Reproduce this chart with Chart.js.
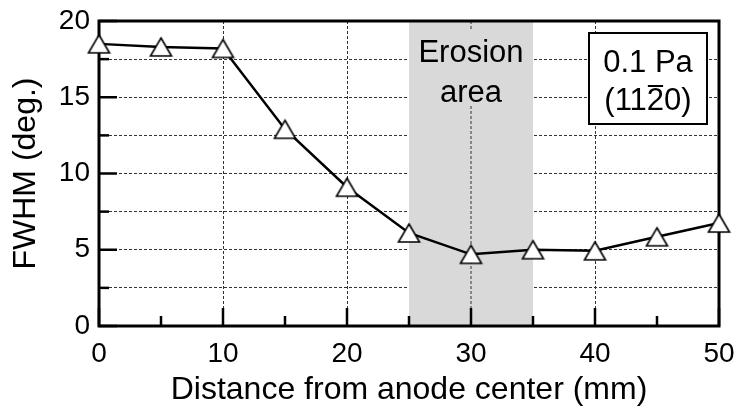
<!DOCTYPE html>
<html>
<head>
<meta charset="utf-8">
<script src="https://cdn.jsdelivr.net/npm/chart.js@4.4.0/dist/chart.umd.min.js"></script>
<style>
    html, body { margin: 0; padding: 0; background: #fff; }
    #wrap { width: 737px; height: 407px; }
</style>
</head>
<body>
<div id="wrap"><canvas id="fwhmChart"></canvas></div>
<script>
// Mätdata: FWHM mot avstånd från anodens centrum
const distance = [0, 5, 10, 15, 20, 25, 30, 35, 40, 45, 50]
const fwhm = [18.5, 18.3, 18.2, 12.9, 9.1, 6.1, 4.7, 5.0, 4.93, 5.85, 6.75]

const erosionRange = [25, 35]
const erosionLabel = ['Erosion', 'area']
const noteLines = ['0.1 Pa', '(1120)']
const noteBarIndex = 3 // streck över "2"

const FONT = '"Liberation Sans", Arial, sans-serif'

// Triangelmarkör centrerad på sin bounding box
function makeTriangle() {
    const c = document.createElement('canvas')
    c.width = 25
    c.height = 22
    const g = c.getContext('2d')
    g.beginPath()
    g.moveTo(12.5, 2)
    g.lineTo(23, 20)
    g.lineTo(2, 20)
    g.closePath()
    g.fillStyle = '#fff'
    g.fill()
    g.lineWidth = 1.6
    g.strokeStyle = '#000'
    g.stroke()
    return c
}

const decorPlugin = {
    id: 'decor',
    beforeDatasetsDraw(chart) {
        const { ctx, chartArea: a, scales: { x, y } } = chart
        const x0 = x.getPixelForValue(erosionRange[0])
        const x1 = x.getPixelForValue(erosionRange[1])
        ctx.save()

        // grått erosionsområde
        ctx.fillStyle = '#d9d9d9'
        ctx.fillRect(x0, a.top, x1 - x0, a.bottom - a.top)

        // vertikal gridlinje inne i området
        ctx.setLineDash([3, 2])
        ctx.strokeStyle = '#333'
        ctx.lineWidth = 1
        x.ticks.forEach((t) => {
            if (t.value % 10 === 0 && t.value > erosionRange[0] && t.value < erosionRange[1]) {
                const px = x.getPixelForValue(t.value)
                ctx.beginPath()
                ctx.moveTo(px, a.top)
                ctx.lineTo(px, a.bottom)
                ctx.stroke()
            }
        })
        ctx.setLineDash([])

        // text med grå bakgrund
        ctx.fillStyle = '#d9d9d9'
        ctx.fillRect(x0, a.top + 9, x1 - x0, 75)
        ctx.fillStyle = '#000'
        ctx.font = '31px ' + FONT
        ctx.textAlign = 'center'
        ctx.textBaseline = 'alphabetic'
        const cx = (x0 + x1) / 2
        ctx.fillText(erosionLabel[0], cx, a.top + 41)
        ctx.fillText(erosionLabel[1], cx, a.top + 81)

        // ram
        ctx.strokeStyle = '#000'
        ctx.lineWidth = 3
        ctx.strokeRect(a.left, a.top, a.right - a.left, a.bottom - a.top)

        // tickmarks inåt
        ctx.lineWidth = 2.5
        x.ticks.forEach((t) => {
            const px = x.getPixelForValue(t.value)
            const len = t.value % 10 === 0 ? 18 : 10
            ctx.beginPath()
            ctx.moveTo(px, a.bottom)
            ctx.lineTo(px, a.bottom - len)
            ctx.stroke()
        })
        y.ticks.forEach((t) => {
            const py = y.getPixelForValue(t.value)
            const len = t.value % 5 === 0 ? 18 : 10
            ctx.beginPath()
            ctx.moveTo(a.left, py)
            ctx.lineTo(a.left + len, py)
            ctx.stroke()
        })
        ctx.restore()
    },
    afterDatasetsDraw(chart) {
        const { ctx, chartArea: a } = chart
        const w = 118
        const h = 91
        const bx = a.right - 12 - w
        const by = a.top + 12
        ctx.save()
        ctx.fillStyle = '#fff'
        ctx.fillRect(bx, by, w, h)
        ctx.strokeStyle = '#000'
        ctx.lineWidth = 2
        ctx.strokeRect(bx, by, w, h)

        ctx.fillStyle = '#000'
        ctx.font = '31px ' + FONT
        ctx.textBaseline = 'alphabetic'
        ctx.textAlign = 'center'
        const cx = bx + w / 2
        ctx.fillText(noteLines[0], cx, by + 39)

        // andra raden med streck över en siffra
        const line = noteLines[1]
        const tw = ctx.measureText(line).width
        const sx = cx - tw / 2
        ctx.textAlign = 'left'
        ctx.fillText(line, sx, by + 77)
        const pre = ctx.measureText(line.slice(0, noteBarIndex)).width
        const cw = ctx.measureText(line[noteBarIndex]).width
        ctx.lineWidth = 2
        ctx.beginPath()
        ctx.moveTo(sx + pre + 1, by + 77 - 24)
        ctx.lineTo(sx + pre + cw - 1, by + 77 - 24)
        ctx.stroke()
        ctx.restore()
    }
}

const points = distance.map((d, i) => ({ x: d, y: fwhm[i] }))

new Chart(document.getElementById('fwhmChart'), {
    type: 'line',
    data: {
        datasets: [
            {
                data: points,
                borderColor: '#000',
                borderWidth: 2.5,
                pointStyle: makeTriangle(),
                clip: false,
                tension: 0
            }
        ]
    },
    options: {
        responsive: true,
        maintainAspectRatio: false,
        animation: false,
        layout: {
            padding: { top: 21, right: 18, left: 0, bottom: 0 }
        },
        plugins: {
            legend: { display: false },
            tooltip: { enabled: false }
        },
        scales: {
            x: {
                type: 'linear',
                min: 0,
                max: 50,
                afterFit: (scale) => {
                    scale.height = 81
                    scale.paddingLeft = 0
                    scale.paddingRight = 0
                },
                ticks: {
                    stepSize: 5,
                    autoSkip: false,
                    maxRotation: 0,
                    padding: 11,
                    color: '#000',
                    font: { family: FONT, size: 28 },
                    callback: (v) => (v % 10 === 0 ? String(v) : '')
                },
                grid: {
                    drawTicks: false,
                    lineWidth: 1,
                    color: (c) => {
                        const v = c.tick ? c.tick.value : 0
                        return v % 10 === 0 && v > 0 && v < 50 ? '#333' : 'rgba(0,0,0,0)'
                    }
                },
                border: { display: false, dash: [3, 2] },
                title: {
                    display: true,
                    text: 'Distance from anode center (mm)',
                    color: '#000',
                    font: { family: FONT, size: 32, lineHeight: 1 },
                    padding: { top: 0, bottom: 1 }
                }
            },
            y: {
                min: 0,
                max: 20,
                afterFit: (scale) => {
                    scale.width = 99
                    scale.paddingTop = 0
                    scale.paddingBottom = 0
                },
                ticks: {
                    stepSize: 2.5,
                    autoSkip: false,
                    padding: 9,
                    color: '#000',
                    font: { family: FONT, size: 28 },
                    callback: (v) => (v % 5 === 0 ? String(v) : '')
                },
                grid: {
                    drawTicks: false,
                    lineWidth: 1,
                    color: (c) => {
                        const v = c.tick ? c.tick.value : 0
                        return v > 0 && v < 20 ? '#333' : 'rgba(0,0,0,0)'
                    }
                },
                border: { display: false, dash: [3, 2] },
                title: {
                    display: true,
                    text: 'FWHM (deg.)',
                    color: '#000',
                    font: { family: FONT, size: 32, lineHeight: 1 },
                    padding: { top: 10, bottom: 0 }
                }
            }
        }
    },
    plugins: [decorPlugin]
})
</script>
</body>
</html>
